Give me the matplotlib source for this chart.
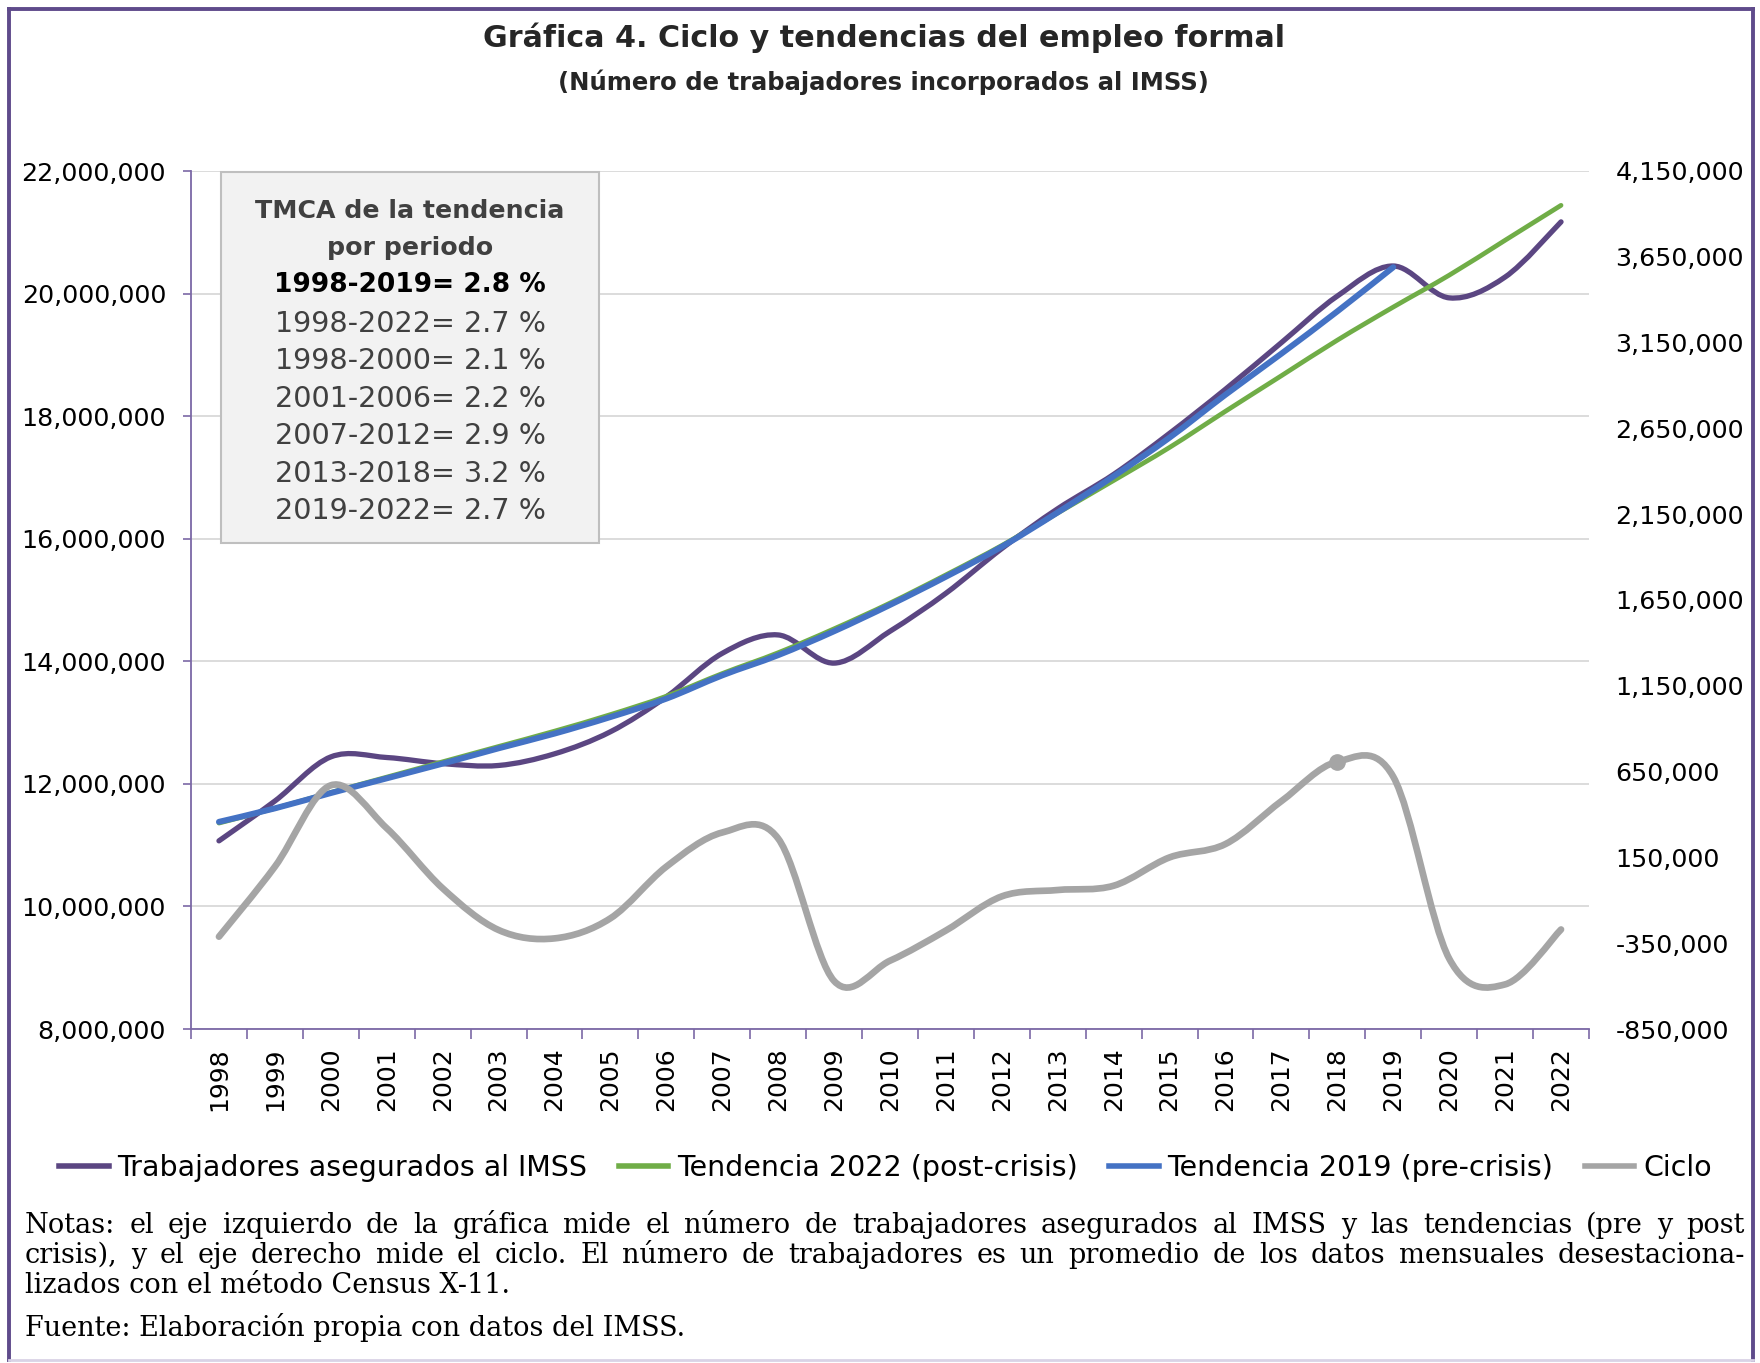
import matplotlib
matplotlib.use("Agg")
import matplotlib.pyplot as plt
from matplotlib.path import Path
from matplotlib.patches import PathPatch, Rectangle
from matplotlib.lines import Line2D

years = list(range(1998, 2023))

# trabajadores asegurados (eje izquierdo)
trabajadores = [11070000, 11720000, 12440000, 12430000, 12330000, 12300000, 12490000,
                12850000, 13420000, 14130000, 14430000, 13970000, 14490000, 15110000,
                15840000, 16490000, 17050000, 17720000, 18440000, 19200000, 19960000,
                20450000, 19930000, 20270000, 21170000]

tend_2022 = [11360000, 11600000, 11860000, 12110000, 12360000, 12610000, 12860000,
             13130000, 13430000, 13800000, 14140000, 14530000, 14950000, 15410000,
             15890000, 16420000, 16950000, 17490000, 18080000, 18660000, 19240000,
             19780000, 20300000, 20870000, 21440000]

# pre-crisis trend only goes to 2019
tend_2019 = [11380000, 11600000, 11850000, 12090000, 12330000, 12580000, 12820000,
             13090000, 13390000, 13770000, 14100000, 14490000, 14920000, 15380000,
             15870000, 16430000, 17020000, 17650000, 18350000, 19020000, 19710000,
             20430000]

# ciclo (eje derecho)
ciclo = [-312000, 96000, 570000, 320000, -30000, -273000, -322000, -205000, 96000,
         295000, 260000, -570000, -452000, -276000, -77000, -40000, -15000, 150000,
         228000, 478000, 708000, 620000, -440000, -590000, -270000]

tmca_titulo = ["TMCA de la tendencia", "por periodo"]
tmca_lineas = ["1998-2019= 2.8 %", "1998-2022= 2.7 %", "1998-2000= 2.1 %",
               "2001-2006= 2.2 %", "2007-2012= 2.9 %", "2013-2018= 3.2 %",
               "2019-2022= 2.7 %"]

c_trab = "#5B4682"
c_t22 = "#70AD47"
c_t19 = "#4472C4"
c_ciclo = "#A5A5A5"
c_axis = "#7B68A6"
c_frame = "#5F4B8B"

W, H = 1760, 1363
fig = plt.figure(figsize=(W / 100, H / 100), dpi=100)
ax = fig.add_axes([191 / W, 1 - 1029 / H, (1589 - 191) / W, (1029 - 171) / H])
ax2 = ax.twinx()


def smooth_path(xs, ys):
    # excel-like smoothed line as cubic bezier segments
    n = len(xs)
    verts = [(xs[0], ys[0])]
    codes = [Path.MOVETO]
    for i in range(n - 1):
        x0, y0 = (xs[i - 1], ys[i - 1]) if i > 0 else (xs[i], ys[i])
        x3, y3 = (xs[i + 2], ys[i + 2]) if i + 2 < n else (xs[i + 1], ys[i + 1])
        c1 = (xs[i] + (xs[i + 1] - x0) / 6, ys[i] + (ys[i + 1] - y0) / 6)
        c2 = (xs[i + 1] - (x3 - xs[i]) / 6, ys[i + 1] - (y3 - ys[i]) / 6)
        verts += [c1, c2, (xs[i + 1], ys[i + 1])]
        codes += [Path.CURVE4] * 3
    return Path(verts, codes)


def draw(axis, vals, color, lw):
    xs = list(range(len(vals)))
    p = PathPatch(smooth_path(xs, vals), fill=False, edgecolor=color, lw=lw,
                  capstyle="round", joinstyle="round")
    axis.add_patch(p)


draw(ax, trabajadores, c_trab, 3.8)
draw(ax, tend_2022, c_t22, 3.4)
draw(ax, tend_2019, c_t19, 4.3)
draw(ax2, ciclo, c_ciclo, 4.8)
ax2.plot([20], [ciclo[20]], "o", color=c_ciclo, ms=11)

ax.set_xlim(-0.5, 24.5)
ax.set_ylim(8000000, 22000000)
ax2.set_ylim(-850000, 4150000)

ax.set_yticks(range(8000000, 22000001, 2000000))
ax.set_yticklabels([f"{v:,}" for v in range(8000000, 22000001, 2000000)], fontsize=18.3)
ax2.set_yticks(range(-850000, 4150001, 500000))
ax2.set_yticklabels([f"{v:,}" for v in range(-850000, 4150001, 500000)], fontsize=18.3)

ax.set_xticks(range(len(years)))
ax.set_xticklabels([str(y) for y in years], rotation=90, fontsize=18)
ax.set_xticks([i - 0.5 for i in range(len(years) + 1)], minor=True)
ax.tick_params(axis="x", which="major", length=0, pad=13)
ax.tick_params(axis="x", which="minor", length=7, width=1.2, color=c_axis, direction="out")
ax.tick_params(axis="y", length=6, width=1.2, color=c_axis, direction="out", pad=12)
ax2.tick_params(axis="y", length=0, pad=19)

ax.grid(axis="y", color="#D9D9D9", lw=1.3)
ax.set_axisbelow(True)
for s in ["top", "right"]:
    ax.spines[s].set_visible(False)
for s in ["left", "bottom"]:
    ax.spines[s].set_color(c_axis)
    ax.spines[s].set_linewidth(1.3)
for s in ax2.spines.values():
    s.set_visible(False)

# titulo
fig.text(0.502, 1 - 38 / H, "Gráfica 4. Ciclo y tendencias del empleo formal",
         ha="center", va="center", fontsize=21.7, fontweight="bold", color="#262626")
fig.text(0.502, 1 - 82 / H, "(Número de trabajadores incorporados al IMSS)",
         ha="center", va="center", fontsize=17.5, fontweight="bold", color="#262626")

# cuadro TMCA
fig.add_artist(Rectangle((221 / W, 1 - 543 / H), (599 - 221) / W, (543 - 172) / H,
                         transform=fig.transFigure, facecolor="#F2F2F2",
                         edgecolor="#BFBFBF", lw=1.5))
ys_box = [211, 248, 285, 324, 361, 399, 436, 474, 511]
for i, t in enumerate(tmca_titulo):
    fig.text(410 / W, 1 - ys_box[i] / H, t, ha="center", va="center",
             fontsize=18.2, fontweight="bold", color="#404040")
for i, t in enumerate(tmca_lineas):
    bold = i == 0
    fig.text(410 / W, 1 - ys_box[i + 2] / H, t, ha="center", va="center",
             fontsize=19 if bold else 20.6, fontweight="bold" if bold else "normal",
             color="black" if bold else "#404040")

# leyenda
handles = [Line2D([], [], color=c_trab, lw=4),
           Line2D([], [], color=c_t22, lw=4),
           Line2D([], [], color=c_t19, lw=4),
           Line2D([], [], color=c_ciclo, lw=4)]
labels = ["Trabajadores asegurados al IMSS", "Tendencia 2022 (post-crisis)",
          "Tendencia 2019 (pre-crisis)", "Ciclo"]
fig.legend(handles, labels, loc="center", bbox_to_anchor=(0.503, 1 - 1168 / H),
           ncol=4, frameon=False, fontsize=20.5, handlelength=1.75,
           handletextpad=0.3, columnspacing=1.1)

# notas (justificadas)
renderer = fig.canvas.get_renderer()


def justified(text, y, x0=25, x1=1745):
    words = text.split(" ")
    arts = [fig.text(0, 1 - y / H, w, ha="left", va="baseline", fontsize=19.5,
                     family="DejaVu Serif", color="black") for w in words]
    widths = [a.get_window_extent(renderer).width for a in arts]
    gap = ((x1 - x0) - sum(widths)) / (len(words) - 1)
    pos = x0
    for a, w in zip(arts, widths):
        a.set_x(pos / W)
        pos += w + gap


justified("Notas: el eje izquierdo de la gráfica mide el número de trabajadores "
          "asegurados al IMSS y las tendencias (pre y post", 1233)
justified("crisis), y el eje derecho mide el ciclo. El número de trabajadores es un "
          "promedio de los datos mensuales desestaciona-", 1263)
fig.text(25 / W, 1 - 1293 / H, "lizados con el método Census X-11.", ha="left",
         va="baseline", fontsize=19.5, family="DejaVu Serif")
fig.text(25 / W, 1 - 1336 / H, "Fuente: Elaboración propia con datos del IMSS.",
         ha="left", va="baseline", fontsize=19.5, family="DejaVu Serif")

# marco
for xs_, ys_ in [([9, 9], [9, 1360]), ([9, 1753], [9, 9]), ([1753, 1753], [9, 1360])]:
    fig.add_artist(Line2D([x / W for x in xs_], [1 - y / H for y in ys_],
                          color=c_frame, lw=2.8))
fig.add_artist(Line2D([9 / W, 1753 / W], [1 - 1360 / H, 1 - 1360 / H],
                      color="#D9D3E6", lw=2))

fig.savefig("out.png", dpi=100)
